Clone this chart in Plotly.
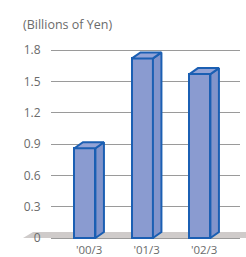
import plotly.graph_objects as go

categories = ["'00/3", "'01/3", "'02/3"]
values = [0.86, 1.72, 1.57]
y_ticks = [0, 0.3, 0.6, 0.9, 1.2, 1.5, 1.8]
y_tick_labels = ["0", "0.3", "0.6", "0.9", "1.2", "1.5", "1.8"]

FILL = "#8a9bd0"
SIDE = "#8294cb"
TOP = "#93a3d6"
EDGE = "#1b5fb3"
TXT = "#6b6b6b"
FONT = "Open Sans"

w = 0.365   # front face width (category units)
dx = 0.148  # depth offset x (category units)
dy = 0.0575 # depth offset y (value units)

xs = list(range(len(categories)))
fig = go.Figure()

fig.add_trace(go.Bar(
    x=xs, y=values, width=w, base=0,
    marker=dict(color=FILL, line=dict(color=EDGE, width=2)),
    hoverinfo="skip", showlegend=False,
))

for x, v in zip(xs, values):
    r = x + w / 2
    l = x - w / 2
    # side face
    fig.add_trace(go.Scatter(
        x=[r, r + dx, r + dx, r, r], y=[0, dy, v + dy, v, 0],
        mode="lines", fill="toself", fillcolor=SIDE,
        line=dict(color=EDGE, width=2), hoverinfo="skip", showlegend=False,
    ))
    # top face
    fig.add_trace(go.Scatter(
        x=[l, l + dx, r + dx, r, l], y=[v, v + dy, v + dy, v, v],
        mode="lines", fill="toself", fillcolor=TOP,
        line=dict(color=EDGE, width=2), hoverinfo="skip", showlegend=False,
    ))

# floor band
fig.add_shape(type="path", xref="paper", yref="y",
              path=f"M -0.148 0 L -0.095 {dy} L 1.04 {dy} L 1.04 0 Z",
              fillcolor="#cfcbca", line=dict(width=0), layer="between")

fig.add_annotation(text="(Billions of Yen)", xref="paper", yref="paper",
                   x=-0.16, y=1.0, xanchor="left", yanchor="bottom",
                   yshift=5, showarrow=False,
                   font=dict(family=FONT, size=12.5, color=TXT))

fig.update_layout(
    template="none",
    width=246, height=257,
    margin=dict(l=51, r=6, t=40, b=16, pad=0),
    paper_bgcolor="white", plot_bgcolor="white",
    bargap=0,
    xaxis=dict(range=[-0.59, 2.697], tickvals=[x + dx / 2 for x in xs],
               ticktext=categories, showgrid=False, zeroline=False,
               showline=False, ticks="", automargin=False,
               tickfont=dict(family=FONT, size=11.5, color=TXT)),
    yaxis=dict(range=[-0.0287, 1.8966], tickvals=y_ticks, ticktext=y_tick_labels,
               showgrid=True, gridcolor="#9a9a9a", gridwidth=1, automargin=False,
               zeroline=False, showline=False, ticks="outside", ticklen=7,
               tickcolor="rgba(0,0,0,0)",
               tickfont=dict(family=FONT, size=12, color=TXT)),
)

fig.write_html("out.html", config={"displayModeBar": False},
               post_script="document.body.style.margin='0';document.body.style.overflow='hidden';")
